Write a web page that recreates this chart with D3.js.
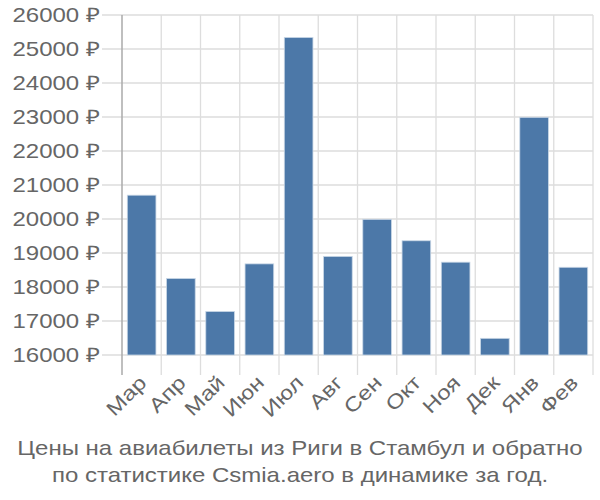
<!DOCTYPE html>
<html><head><meta charset="utf-8">
<script src="https://cdn.jsdelivr.net/npm/d3@7"></script>
<style>body{margin:0;background:#fff}svg{display:block}text{font-family:"Liberation Sans",Arial,sans-serif}</style>
</head><body><svg id="c" width="600" height="500"></svg>
<script>
const categories = ["Мар","Апр","Май","Июн","Июл","Авг","Сен","Окт","Ноя","Дек","Янв","Фев"];
const values = [20700,18250,17280,18680,25340,18900,19990,19360,18730,16490,22990,18580];
const yTicks = [16000,17000,18000,19000,20000,21000,22000,23000,24000,25000,26000];
const titleLines = ["Цены на авиабилеты из Риги в Стамбул и обратно","по статистике Csmia.aero в динамике за год."];

const svg = d3.select("#c");
const L = 122, R = 593, T = 15, B = 355;
const SX = 1.2;
const x = d3.scaleBand().domain(categories).range([L, R]).paddingInner(0.27).paddingOuter(0.135);
const xb = d3.scaleBand().domain(categories).range([L, R]);
const y = d3.scaleLinear().domain([16000, 26000]).range([B, T]);
const grid = "#dddddd", txt = "#666666";

// horizontal grid + ticks
svg.append("g").selectAll("line").data(yTicks).join("line")
  .attr("x1", L - 20).attr("x2", R).attr("y1", d => y(d)).attr("y2", d => y(d))
  .attr("stroke", grid).attr("stroke-width", 1.3);
// vertical grid at band boundaries
const bounds = categories.map(c => xb(c)).concat([R]);
svg.append("g").selectAll("line").data(bounds.slice(1)).join("line")
  .attr("x1", d => d).attr("x2", d => d).attr("y1", T).attr("y2", B + 20)
  .attr("stroke", grid).attr("stroke-width", 1.3);
// left axis
svg.append("line").attr("x1", L).attr("x2", L).attr("y1", T).attr("y2", B + 20)
  .attr("stroke", "#aaaaaa").attr("stroke-width", 1.5);

// bars
svg.append("g").selectAll("rect").data(values).join("rect")
  .attr("x", (d, i) => x(categories[i])).attr("width", x.bandwidth())
  .attr("y", d => y(d)).attr("height", d => y(16000) - y(d))
  .attr("fill", "#4c78a8").attr("stroke", "#c9d7e6").attr("stroke-width", 0.8);

// y labels
svg.append("g").selectAll("text").data(yTicks).join("text")
  .attr("transform", d => `translate(${L - 22},${y(d)}) scale(${SX},1)`)
  .attr("dy", "0.35em")
  .attr("text-anchor", "end").attr("fill", txt).attr("font-size", 20)
  .text(d => d + " ₽");

// x labels
svg.append("g").selectAll("text").data(categories).join("text")
  .attr("transform", c => `translate(${xb(c) + xb.bandwidth() / 2 + 1},${B + 24}) rotate(-45) scale(${SX},1)`)
  .attr("text-anchor", "end").attr("dy", "0.35em").attr("fill", txt).attr("font-size", 20)
  .text(c => c);

// title
svg.append("g").selectAll("text").data(titleLines).join("text")
  .attr("transform", (d, i) => `translate(300,${455 + i * 27}) scale(${SX},1)`)
  .attr("text-anchor", "middle")
  .attr("fill", txt).attr("font-size", 20).text(d => d);
</script></body></html>
